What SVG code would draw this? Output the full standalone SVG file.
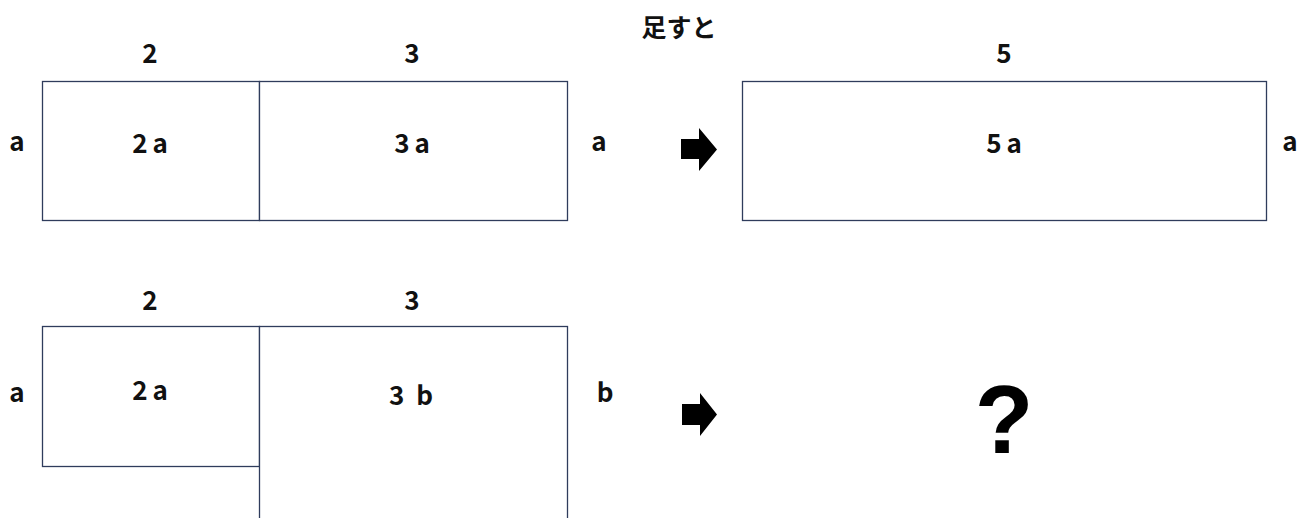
<svg xmlns="http://www.w3.org/2000/svg" width="1308" height="518" viewBox="0 0 1308 518">
<style>
.box{fill:#fff;stroke:#2f3c5c;stroke-width:1.3}
.t{font-family:"Noto Sans CJK JP","Liberation Sans",sans-serif;font-size:26px;font-weight:bold;fill:#111;text-anchor:middle}
.arrow{fill:#000}
</style>
<rect width="1308" height="518" fill="#fff"/>
<g id="title"><text class="t" x="679" y="37" style="font-size:25px">足すと</text></g>
<g id="top-left">
<rect class="box" x="42.5" y="81.5" width="217" height="139"/>
<text class="t" x="150" y="153">2<tspan dx="5">a</tspan></text>
</g>
<g id="top-mid">
<rect class="box" x="259.5" y="81.5" width="308" height="139"/>
<text class="t" x="412" y="153">3<tspan dx="5">a</tspan></text>
</g>
<g id="top-right">
<rect class="box" x="742.5" y="81.5" width="524" height="139"/>
<text class="t" x="1004" y="153">5<tspan dx="5">a</tspan></text>
</g>
<g id="bot-left">
<rect class="box" x="42.5" y="326.5" width="217" height="140"/>
<text class="t" x="150" y="400">2<tspan dx="5">a</tspan></text>
</g>
<g id="bot-mid">
<rect class="box" x="259.5" y="326.5" width="308" height="200"/>
<text class="t" x="411" y="405">3<tspan dx="12">b</tspan></text>
</g>
<g id="labels">
<text class="t" x="150" y="63">2</text>
<text class="t" x="412" y="63">3</text>
<text class="t" x="1004" y="63">5</text>
<text class="t" x="17" y="151">a</text>
<text class="t" x="599" y="151">a</text>
<text class="t" x="1290" y="151">a</text>
<text class="t" x="150" y="310">2</text>
<text class="t" x="412" y="310">3</text>
<text class="t" x="17" y="402">a</text>
<text class="t" x="605" y="402">b</text>
<text x="1004" y="453" style="font-family:'Liberation Sans',sans-serif;font-size:96px;font-weight:bold;fill:#000;text-anchor:middle">?</text>
</g>
<g id="connectors">
<polygon class="arrow" points="681,139 699,139 699,128 717,149.5 699,171 699,159 681,159"/>
<polygon class="arrow" points="682,404 700,404 700,393 717,414.5 700,436 700,425 682,425"/>
</g>
</svg>
